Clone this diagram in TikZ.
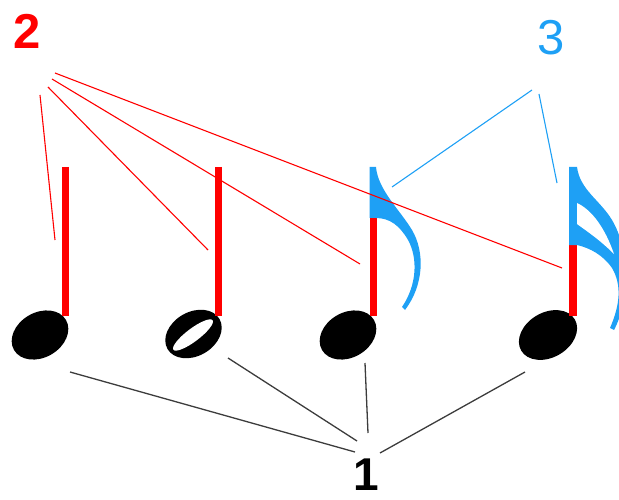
\documentclass[tikz,border=0pt]{standalone}
\usepackage{fontspec}
\setmainfont{Liberation Sans}
\definecolor{nred}{RGB}{255,0,0}
\definecolor{nblue}{RGB}{30,160,245}
\definecolor{ngray}{RGB}{60,60,60}
\begin{document}
\begin{tikzpicture}[x=1pt,y=-1pt,
  redline/.style={draw=nred,line width=1.1pt},
  blueline/.style={draw=nblue,line width=1.1pt},
  grayline/.style={draw=ngray,line width=1.3pt},
  stemline/.style={line width=7pt},
  lbl/.style={inner sep=0pt,font=\fontsize{49}{49}\selectfont}]
\useasboundingbox (0,0) rectangle (619,500);
% labels
\node[lbl,text=nred,font=\fontsize{49}{49}\selectfont\bfseries] (two) at (27.5,31) {2};
\node[lbl,text=nblue] (three) at (551.5,37.5) {3};
\node[lbl,text=black,font=\fontsize{46}{46}\selectfont\bfseries] (one) at (366.5,475) {1};
% note heads
\fill[black,rotate around={30:(40,335)}] (40,335) ellipse [x radius=30, y radius=22.5];
\fill[black,rotate around={30:(193.5,334)}] (193.5,334) ellipse [x radius=30, y radius=22];
\fill[white,rotate around={37:(193,335)}] (193,335) ellipse [x radius=24.5, y radius=6.5];
\fill[black,rotate around={30:(348,335)}] (348,335) ellipse [x radius=30, y radius=22.5];
\fill[black,rotate around={30:(548,335)}] (548,335) ellipse [x radius=31, y radius=22.5];
% stems
\draw[nred,stemline] (65,167) -- (65,316);
\draw[nred,stemline] (218.5,167) -- (218.5,316);
\draw[nred,stemline] (373,217) -- (373,316);
\draw[nred,line width=8pt] (573,244) -- (573,316);
% eighth flag
\fill[nblue] (369.5,167) -- (376,167) .. controls (378,190) and (400,210) .. (412,230)
  .. controls (425,252) and (424,285) .. (405,310) -- (402,307)
  .. controls (417,285) and (418,258) .. (408,240)
  .. controls (400,226) and (390,218) .. (376,218) -- (369.5,218) -- cycle;
% sixteenth flags
\fill[nblue] (569,167) -- (577,167) .. controls (580,190) and (600,200) .. (612,220)
  .. controls (630,250) and (630,300) .. (614,330) -- (610,328)
  .. controls (620,305) and (622,285) .. (612,268)
  .. controls (603,255) and (590,248) .. (577,245) -- (569,245) -- cycle;
\fill[white] (577,203) .. controls (592,210) and (605,228) .. (614,254)
  .. controls (600,240) and (588,232) .. (577,224) -- cycle;
% connector ends
\coordinate (r1) at (40,95);  \coordinate (e1) at (55,240);
\coordinate (r2) at (48,87);  \coordinate (e2) at (208,250);
\coordinate (r3) at (52,79);  \coordinate (e3) at (360,264);
\coordinate (r4) at (55,73);  \coordinate (e4) at (562,268);
\coordinate (b1) at (532,90); \coordinate (f1) at (392,187);
\coordinate (b2) at (539,94); \coordinate (f2) at (557,183);
\coordinate (k1) at (70,372);  \coordinate (g1) at (355,452);
\coordinate (k2) at (228,358); \coordinate (g2) at (357,441);
\coordinate (k3) at (365,363); \coordinate (g3) at (368,433);
\coordinate (k4) at (525,372); \coordinate (g4) at (380,453);
% connectors
\draw[redline] (r1) -- (e1);
\draw[redline] (r2) -- (e2);
\draw[redline] (r3) -- (e3);
\draw[redline] (r4) -- (e4);
\draw[blueline] (b1) -- (f1);
\draw[blueline] (b2) -- (f2);
\draw[grayline] (k1) -- (g1);
\draw[grayline] (k2) -- (g2);
\draw[grayline] (k3) -- (g3);
\draw[grayline] (k4) -- (g4);
\end{tikzpicture}
\end{document}
